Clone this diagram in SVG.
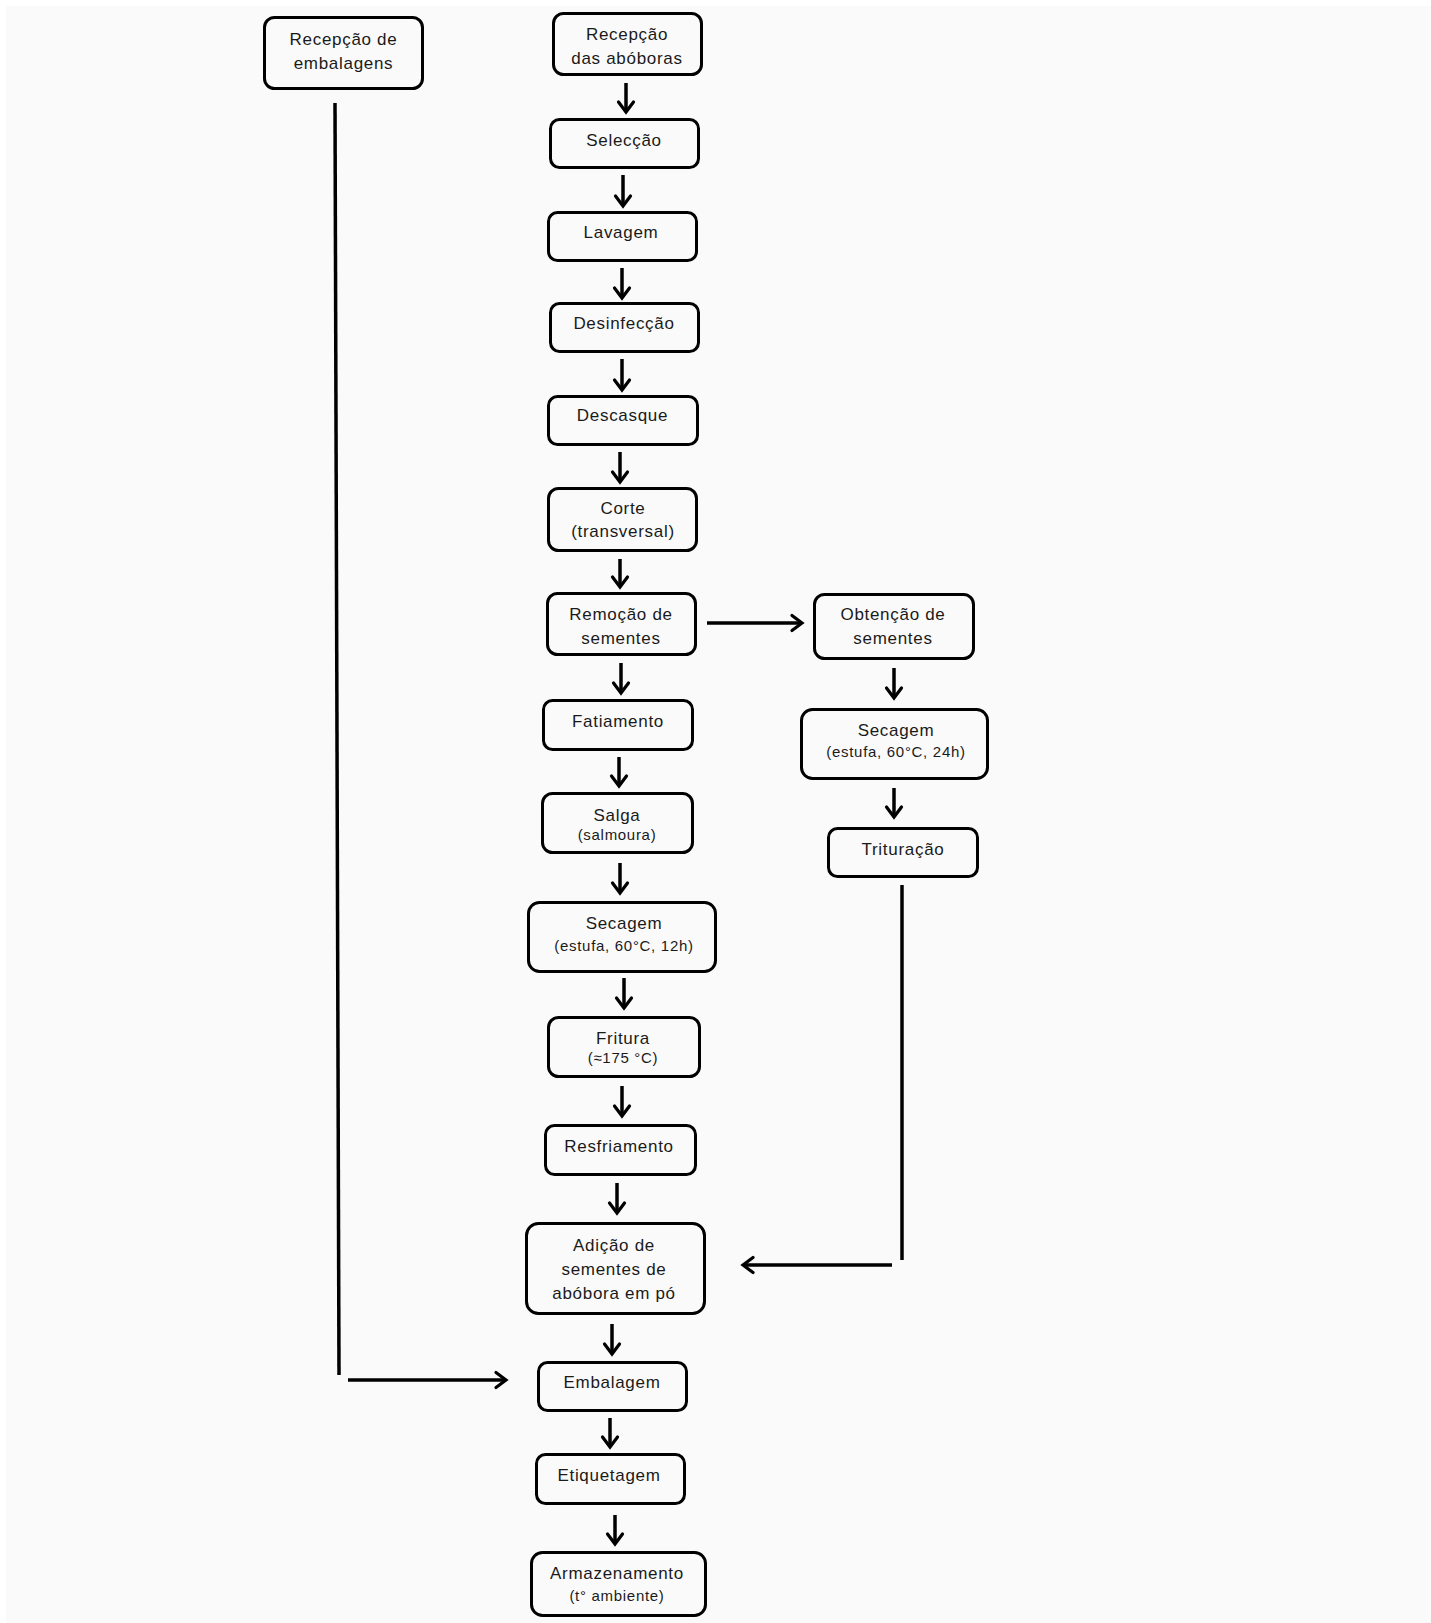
<svg xmlns="http://www.w3.org/2000/svg" width="1431" height="1623" viewBox="0 0 1431 1623">
<defs>
<marker id="ah" markerUnits="userSpaceOnUse" markerWidth="24" markerHeight="24" viewBox="-14 -12 18 24" refX="0" refY="0" orient="auto">
<path d="M-10,-7.5 L0,0 L-10,7.5" fill="none" stroke="#000" stroke-width="3.2" stroke-linecap="round" stroke-linejoin="miter"/>
</marker>
<style>
.box{fill:#fafafa;stroke:#000;stroke-width:3;}
.t{font-family:"Liberation Sans",Arial,sans-serif;font-size:17px;fill:#1a1a1a;text-anchor:middle;letter-spacing:0.7px;}
.s{font-size:15px;}
.c{fill:none;stroke:#000;stroke-width:3.5;}
.a{fill:none;stroke:#000;stroke-width:3.5;marker-end:url(#ah);}
</style>
</defs>
<rect x="0" y="0" width="1431" height="1623" fill="#ffffff"/>
<rect x="6" y="6" width="1425" height="1617" fill="#fafafa"/>

<g id="n-emb-rec"><rect class="box" x="264.5" y="17.5" width="158" height="71" rx="10"/><text class="t" x="343.5" y="45">Recepção de</text><text class="t" x="343.5" y="69">embalagens</text></g>
<g id="n-rec"><rect class="box" x="553.5" y="13.5" width="148" height="61" rx="10"/><text class="t" x="627" y="40">Recepção</text><text class="t" x="627" y="64">das abóboras</text></g>
<g id="n-sel"><rect class="box" x="550.5" y="119.5" width="148" height="48" rx="9"/><text class="t" x="624" y="146">Selecção</text></g>
<g id="n-lav"><rect class="box" x="548.5" y="212.5" width="148" height="48" rx="9"/><text class="t" x="621" y="238">Lavagem</text></g>
<g id="n-des"><rect class="box" x="550.5" y="303.5" width="148" height="48" rx="9"/><text class="t" x="624" y="329">Desinfecção</text></g>
<g id="n-desc"><rect class="box" x="548.5" y="396.5" width="149" height="48" rx="9"/><text class="t" x="622.5" y="421">Descasque</text></g>
<g id="n-corte"><rect class="box" x="548.5" y="488.5" width="148" height="62" rx="10"/><text class="t" x="623" y="514">Corte</text><text class="t" x="623" y="537">(transversal)</text></g>
<g id="n-rem"><rect class="box" x="547.5" y="593.5" width="148" height="61" rx="10"/><text class="t" x="621" y="620">Remoção de</text><text class="t" x="621" y="644">sementes</text></g>
<g id="n-fat"><rect class="box" x="543.5" y="700.5" width="149" height="49" rx="9"/><text class="t" x="618" y="727">Fatiamento</text></g>
<g id="n-salga"><rect class="box" x="542.5" y="793.5" width="150" height="59" rx="10"/><text class="t" x="617" y="821">Salga</text><text class="t s" x="617" y="840">(salmoura)</text></g>
<g id="n-sec1"><rect class="box" x="528.5" y="902.5" width="187" height="69" rx="11"/><text class="t" x="624" y="929">Secagem</text><text class="t s" x="624" y="951">(estufa, 60°C, 12h)</text></g>
<g id="n-frit"><rect class="box" x="548.5" y="1017.5" width="151" height="59" rx="10"/><text class="t" x="623" y="1044">Fritura</text><text class="t s" x="623" y="1063">(≈175 °C)</text></g>
<g id="n-resf"><rect class="box" x="545.5" y="1125.5" width="150" height="49" rx="9"/><text class="t" x="619" y="1152">Resfriamento</text></g>
<g id="n-adic"><rect class="box" x="526.5" y="1223.5" width="178" height="90" rx="12"/><text class="t" x="614" y="1251">Adição de</text><text class="t" x="614" y="1275">sementes de</text><text class="t" x="614" y="1299">abóbora em pó</text></g>
<g id="n-emb2"><rect class="box" x="538.5" y="1362.5" width="148" height="48" rx="9"/><text class="t" x="612" y="1388">Embalagem</text></g>
<g id="n-etiq"><rect class="box" x="536.5" y="1454.5" width="148" height="49" rx="9"/><text class="t" x="609" y="1481">Etiquetagem</text></g>
<g id="n-arm"><rect class="box" x="531.5" y="1552.5" width="174" height="63" rx="11"/><text class="t" x="617" y="1579">Armazenamento</text><text class="t s" x="617" y="1601">(t° ambiente)</text></g>
<g id="n-obt"><rect class="box" x="814.5" y="594.5" width="159" height="64" rx="10"/><text class="t" x="893" y="620">Obtenção de</text><text class="t" x="893" y="644">sementes</text></g>
<g id="n-sec2"><rect class="box" x="801.5" y="709.5" width="186" height="69" rx="11"/><text class="t" x="896" y="736">Secagem</text><text class="t s" x="896" y="757">(estufa, 60°C, 24h)</text></g>
<g id="n-trit"><rect class="box" x="828.5" y="828.5" width="149" height="48" rx="9"/><text class="t" x="903" y="855">Trituração</text></g>

<g id="connectors">
<line class="a" x1="626" y1="83" x2="626" y2="112"/>
<line class="a" x1="623" y1="175" x2="623" y2="206"/>
<line class="a" x1="622" y1="268" x2="622" y2="298"/>
<line class="a" x1="622" y1="359" x2="622" y2="390"/>
<line class="a" x1="620" y1="452" x2="620" y2="482"/>
<line class="a" x1="620" y1="559" x2="620" y2="587"/>
<line class="a" x1="621" y1="663" x2="621" y2="693"/>
<line class="a" x1="619" y1="757" x2="619" y2="786"/>
<line class="a" x1="620" y1="863" x2="620" y2="893"/>
<line class="a" x1="624" y1="978" x2="624" y2="1008"/>
<line class="a" x1="622" y1="1086" x2="622" y2="1116"/>
<line class="a" x1="617" y1="1183" x2="617" y2="1213"/>
<line class="a" x1="612" y1="1324" x2="612" y2="1354"/>
<line class="a" x1="610" y1="1418" x2="610" y2="1447"/>
<line class="a" x1="615" y1="1515" x2="615" y2="1544"/>
<line class="a" x1="894" y1="668" x2="894" y2="698"/>
<line class="a" x1="894" y1="788" x2="894" y2="817"/>
<line class="a" x1="707" y1="623" x2="802" y2="623"/>
<line class="c" x1="902" y1="885" x2="902" y2="1260"/>
<line class="a" x1="892" y1="1265" x2="743" y2="1265"/>
<line class="c" x1="335" y1="103" x2="339" y2="1375"/>
<line class="a" x1="348" y1="1380" x2="506" y2="1380"/>
</g>
</svg>
